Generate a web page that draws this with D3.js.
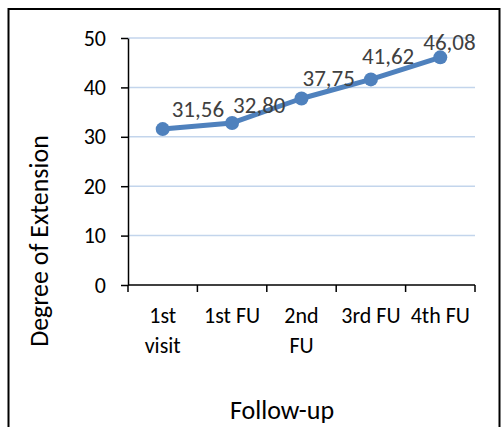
<!DOCTYPE html>
<html>
<head>
<meta charset="utf-8">
<script src="https://cdn.jsdelivr.net/npm/d3@7"></script>
<style>
    html, body { margin: 0; padding: 0; background: #fff; }
    svg { display: block; }
</style>
</head>
<body>
<div id="chart"></div>
<script>
// Degree of extension per visit
const categories = ['1st visit', '1st FU', '2nd FU', '3rd FU', '4th FU'];
const categoryLines = [['1st', 'visit'], ['1st FU'], ['2nd', 'FU'], ['3rd FU'], ['4th FU']];
const values = [31.56, 32.80, 37.75, 41.62, 46.08];
const valueLabels = ['31,56', '32,80', '37,75', '41,62', '46,08'];
const yTicks = [0, 10, 20, 30, 40, 50];

// label nudges relative to each point (as placed in the original)
const labelDx = [9, 1, 1, -9, -17];
const labelDy = [-12, -10, -12.5, -15, -7.5];

const width = 501;
const height = 427;
const font = 'Carlito, Calibri, Lato, sans-serif';

const svg = d3
    .select('#chart')
    .append('svg')
    .attr('width', width)
    .attr('height', height);

// chart frame
svg.append('rect')
    .attr('x', 8.5)
    .attr('y', 9)
    .attr('width', 491)
    .attr('height', 440)
    .attr('fill', '#fff')
    .attr('stroke', '#000')
    .attr('stroke-width', 2);

const x = d3.scaleBand().domain(categories).range([128, 475]);
const y = d3.scaleLinear().domain([0, 50]).range([285, 38]);

// gridlines
svg.append('g')
    .selectAll('line')
    .data(yTicks.filter((d) => d > 0))
    .enter()
    .append('line')
    .attr('x1', 128)
    .attr('x2', 475)
    .attr('y1', (d) => y(d))
    .attr('y2', (d) => y(d))
    .attr('stroke', '#c3d5ec')
    .attr('stroke-width', 1.5);

// y axis
const yAxis = svg.append('g')
    .attr('transform', 'translate(128,0)')
    .call(d3.axisLeft(y).tickValues(yTicks).tickSize(7).tickSizeOuter(0).tickPadding(15));
yAxis.select('.domain').attr('stroke', '#000').attr('stroke-width', 1.5);
yAxis.selectAll('.tick line').attr('stroke', '#000').attr('stroke-width', 1.5);
yAxis.selectAll('.tick text')
    .attr('font-family', font)
    .attr('font-size', 22)
    .attr('fill', '#000');

// x axis with ticks between categories
const xAxisG = svg.append('g').attr('transform', 'translate(0,285)');
xAxisG.append('line')
    .attr('x1', 128)
    .attr('x2', 475)
    .attr('stroke', '#000')
    .attr('stroke-width', 1.5);
const boundaries = categories.map((c) => x(c)).concat([x.range()[1]]);
xAxisG.selectAll('.xtick')
    .data(boundaries)
    .enter()
    .append('line')
    .attr('class', 'xtick')
    .attr('x1', (d) => d)
    .attr('x2', (d) => d)
    .attr('y1', 0)
    .attr('y2', 7)
    .attr('stroke', '#000')
    .attr('stroke-width', 1.5);

const catText = xAxisG.selectAll('.xlabel')
    .data(categories)
    .enter()
    .append('text')
    .attr('class', 'xlabel')
    .attr('x', (d) => x(d) + x.bandwidth() / 2)
    .attr('y', 38)
    .attr('text-anchor', 'middle')
    .attr('font-family', font)
    .attr('font-size', 22)
    .attr('fill', '#000');
catText.selectAll('tspan')
    .data((d, i) => categoryLines[i])
    .enter()
    .append('tspan')
    .attr('x', function () { return this.parentNode.getAttribute('x'); })
    .attr('dy', (d, i) => (i === 0 ? 0 : 30))
    .text((d) => d);

// axis titles
svg.append('text')
    .attr('transform', 'translate(48,241) rotate(-90)')
    .attr('text-anchor', 'middle')
    .attr('font-family', font)
    .attr('font-size', 26)
    .attr('fill', '#000')
    .text('Degree of Extension');

svg.append('text')
    .attr('x', 282)
    .attr('y', 419)
    .attr('text-anchor', 'middle')
    .attr('font-family', font)
    .attr('font-size', 26)
    .attr('fill', '#000')
    .text('Follow-up');

// series line
const line = d3.line()
    .x((d, i) => x(categories[i]) + x.bandwidth() / 2)
    .y((d) => y(d));

svg.append('path')
    .datum(values)
    .attr('d', line)
    .attr('fill', 'none')
    .attr('stroke', '#4f81bd')
    .attr('stroke-width', 5)
    .attr('stroke-linejoin', 'round');

svg.append('g')
    .selectAll('circle')
    .data(values)
    .enter()
    .append('circle')
    .attr('cx', (d, i) => x(categories[i]) + x.bandwidth() / 2)
    .attr('cy', (d) => y(d))
    .attr('r', 7)
    .attr('fill', '#4f81bd');

// data labels
svg.append('g')
    .selectAll('text')
    .data(values)
    .enter()
    .append('text')
    .attr('x', (d, i) => x(categories[i]) + x.bandwidth() / 2 + labelDx[i])
    .attr('y', (d, i) => y(d) + labelDy[i])
    .attr('font-family', font)
    .attr('font-size', 23)
    .attr('fill', '#404040')
    .text((d, i) => valueLabels[i]);
</script>
</body>
</html>
